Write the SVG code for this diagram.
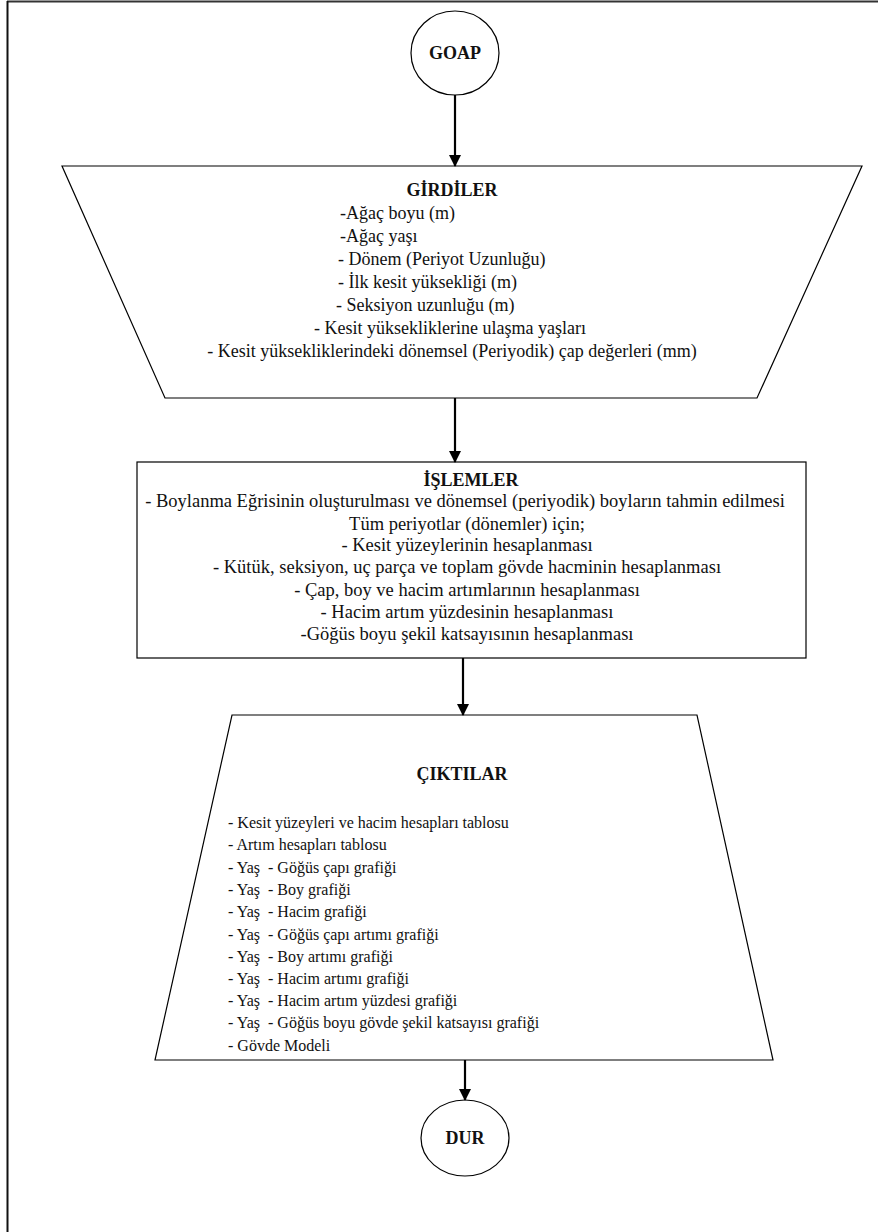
<svg xmlns="http://www.w3.org/2000/svg" width="878" height="1232" viewBox="0 0 878 1232">
<style>
.shape{fill:#fff;stroke:#000;stroke-width:1.2}
.t{font-family:"Liberation Serif","Times New Roman",serif;font-size:16px;fill:#111;white-space:pre}
.m{font-size:18px}
.l{font-size:18.5px}
.b{font-weight:bold;font-size:18px}
.c{text-anchor:middle}
.conn{stroke:#000;stroke-width:2.2;fill:none}
</style>
<defs>
<marker id="ah" markerWidth="12" markerHeight="12" refX="11" refY="6" orient="auto" markerUnits="userSpaceOnUse">
<path d="M0,0 L12,6 L0,12 Z" fill="#000"/>
</marker>
</defs>
<rect x="0" y="0" width="878" height="1232" fill="#fff"/>
<line x1="7" y1="1.5" x2="878" y2="1.5" stroke="#333" stroke-width="2"/>
<line x1="7.5" y1="1" x2="7.5" y2="1232" stroke="#111" stroke-width="2"/>

<g id="goap">
<ellipse class="shape" cx="455" cy="53" rx="44" ry="42"/>
<text class="t b c" x="455" y="59">GOAP</text>
</g>

<g id="girdiler">
<polygon class="shape" points="62,166 862,166 757,398 165,398"/>
<text class="t b c" x="452" y="196">GİRDİLER</text>
<text class="t m" x="340" y="219">-Ağaç boyu (m)</text>
<text class="t m" x="340" y="242">-Ağaç yaşı</text>
<text class="t m" x="338" y="265">- Dönem (Periyot Uzunluğu)</text>
<text class="t m" x="338" y="288">- İlk kesit yüksekliği (m)</text>
<text class="t m" x="336" y="311">- Seksiyon uzunluğu (m)</text>
<text class="t m c" x="450" y="334">- Kesit yüksekliklerine ulaşma yaşları</text>
<text class="t m c" x="452" y="357">- Kesit yüksekliklerindeki dönemsel (Periyodik) çap değerleri (mm)</text>
</g>

<g id="islemler">
<rect class="shape" x="137" y="462" width="669" height="196"/>
<text class="t b c" x="471" y="486">İŞLEMLER</text>
<text class="t l c" x="465" y="507">- Boylanma Eğrisinin oluşturulması ve dönemsel (periyodik) boyların tahmin edilmesi</text>
<text class="t l c" x="467" y="530">Tüm periyotlar (dönemler) için;</text>
<text class="t l c" x="467" y="551">- Kesit yüzeylerinin hesaplanması</text>
<text class="t l c" x="467" y="573">- Kütük, seksiyon, uç parça ve toplam gövde hacminin hesaplanması</text>
<text class="t l c" x="467" y="596">- Çap, boy ve hacim artımlarının hesaplanması</text>
<text class="t l c" x="467" y="618">- Hacim artım yüzdesinin hesaplanması</text>
<text class="t l c" x="467" y="640">-Göğüs boyu şekil katsayısının hesaplanması</text>
</g>

<g id="ciktilar">
<polygon class="shape" points="232,715 697,715 773,1060 155,1060"/>
<text class="t b c" x="462" y="780">ÇIKTILAR</text>
<text class="t" x="228" y="828">- Kesit yüzeyleri ve hacim hesapları tablosu</text>
<text class="t" x="228" y="850">- Artım hesapları tablosu</text>
<text class="t" x="228" y="873">- Yaş  - Göğüs çapı grafiği</text>
<text class="t" x="228" y="895">- Yaş  - Boy grafiği</text>
<text class="t" x="228" y="917">- Yaş  - Hacim grafiği</text>
<text class="t" x="228" y="940">- Yaş  - Göğüs çapı artımı grafiği</text>
<text class="t" x="228" y="962">- Yaş  - Boy artımı grafiği</text>
<text class="t" x="228" y="984">- Yaş  - Hacim artımı grafiği</text>
<text class="t" x="228" y="1006">- Yaş  - Hacim artım yüzdesi grafiği</text>
<text class="t" x="228" y="1028">- Yaş  - Göğüs boyu gövde şekil katsayısı grafiği</text>
<text class="t" x="228" y="1051">- Gövde Modeli</text>
</g>

<g id="dur">
<ellipse class="shape" cx="465" cy="1138" rx="44" ry="38"/>
<text class="t b c" x="465" y="1144">DUR</text>
</g>

<g id="connectors">
<line class="conn" x1="455" y1="95" x2="455" y2="166" marker-end="url(#ah)"/>
<line class="conn" x1="455" y1="398" x2="455" y2="462" marker-end="url(#ah)"/>
<line class="conn" x1="463" y1="658" x2="463" y2="715" marker-end="url(#ah)"/>
<line class="conn" x1="465" y1="1060" x2="465" y2="1100" marker-end="url(#ah)"/>
</g>
</svg>
